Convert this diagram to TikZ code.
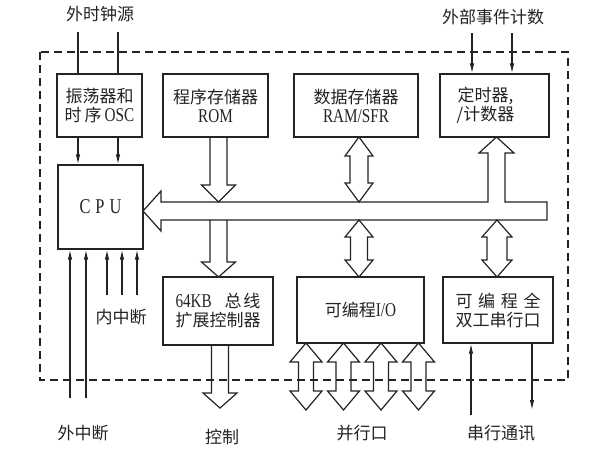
\documentclass[tikz,border=0pt]{standalone}
\usepackage{fontspec}
\setmainfont{Liberation Serif}[FakeStretch=0.78]
\newfontfamily\cjk{Noto Sans CJK SC}
\usetikzlibrary{arrows.meta}
\definecolor{ink}{RGB}{35,35,35}
\newcommand{\fs}{\fontsize{17}{19}\selectfont}
\newcommand{\la}{\fontsize{19.5}{19}\selectfont}
\newcommand{\FatDbl}[6]{\draw[fat] (#1,#2) -- ({#1+#4},{#2+#6}) -- ({#1+#5},{#2+#6}) -- ({#1+#5},{#3-#6}) -- ({#1+#4},{#3-#6}) -- (#1,#3) -- ({#1-#4},{#3-#6}) -- ({#1-#5},{#3-#6}) -- ({#1-#5},{#2+#6}) -- ({#1-#4},{#2+#6}) -- cycle;}
\newcommand{\FatDown}[6]{\draw[fat] ({#1-#5},#2) -- ({#1-#5},{#3-#6}) -- ({#1-#4},{#3-#6}) -- (#1,#3) -- ({#1+#4},{#3-#6}) -- ({#1+#5},{#3-#6}) -- ({#1+#5},#2);}
\begin{document}
\begin{tikzpicture}[x=1pt,y=-1pt,
  box/.style={draw=ink,line width=1.3pt,inner sep=0pt,align=center,font=\fs,text=ink},
  fat/.style={draw=ink,line width=1.2pt,line join=miter},
  thinarr/.style={draw=ink,line width=1.1pt,-{Latex[length=10pt,width=4.5pt]}},
  thinln/.style={draw=ink,line width=1.1pt},
  lbl/.style={font=\fs\cjk,text=ink,inner sep=0pt},
  frame/.style={draw=ink,line width=1.6pt,dash pattern=on 8pt off 5pt}]
\useasboundingbox (0,0) rectangle (595,453);

% boxes
\node[box,minimum width=85pt,minimum height=63pt] (osc) at (99.5,105.5) {{\cjk 振荡器和}\\{\cjk 时\hspace{3pt}序}\hspace{3pt}{\la OSC}};
\node[box,minimum width=105pt,minimum height=63pt] (rom) at (215.5,105.5) {{\cjk 程序存储器}\\{\la ROM}};
\node[box,minimum width=124pt,minimum height=63pt] (ram) at (356,105.5) {{\cjk 数据存储器}\\{\la RAM/SFR}};
\node[box,minimum width=109pt,minimum height=63pt,
  label={[font=\fs,text=ink,align=center,xshift=-9pt]center:{{\cjk 定时器,}\\{\cjk /计数器}}}] (timer) at (494.5,105.5) {};
\node[box,minimum width=85pt,minimum height=84pt] (cpu) at (100.5,207) {{\fontsize{21}{21}\selectfont C\hspace{5pt}P\hspace{5pt}U}};
\node[box,minimum width=110pt,minimum height=68pt] (ctrl) at (218,311) {\makebox[5em][s]{{\la 64KB}\hfill{\cjk 总\hspace{2pt}线}}\\{\cjk 扩展控制器}};
\node[box,minimum width=127pt,minimum height=66pt] (io) at (360.5,310) {{\cjk 可编程}{\la I/O}};
\node[box,minimum width=110pt,minimum height=66pt] (sio) at (498,310) {\makebox[5em][s]{\cjk 可\hfill 编\hfill 程\hfill 全}\\{\cjk 双工串行口}};

% outer dashed frame
\draw[frame] (40,52) rectangle (568,380);

% bus with branch up to the timer
\draw[fat] (143,211) -- (161,191) -- (161,202) -- (488,202) -- (488,153) -- (479,153) -- (496.5,137)
  -- (514,153) -- (505,153) -- (505,202) -- (547,202) -- (547,220) -- (161,220) -- (161,231) -- cycle;

% fat arrows
\FatDown{218.5}{137}{202}{17}{8.5}{17}
\FatDown{218.5}{220}{277}{17}{8.5}{15}
\FatDown{220}{345}{408}{17}{8.5}{15}
\FatDbl{359}{137}{202}{14}{9}{19}
\FatDbl{359}{220}{277}{14}{8.5}{17}
\FatDbl{497}{220}{277}{15}{10}{17}
\FatDbl{306}{343}{410}{16}{7.5}{19}
\FatDbl{343.5}{343}{410}{16}{7.5}{19}
\FatDbl{381}{343}{410}{16}{7.5}{19}
\FatDbl{418.5}{343}{410}{16}{7.5}{19}

% clock
\coordinate (ck1) at (78,32);
\coordinate (ck2) at (118,32);
\draw[thinln] (ck1) -- (ck1 |- osc.north);
\draw[thinln] (ck2) -- (ck2 |- osc.north);
\draw[thinarr] (ck1 |- osc.south) -- (ck1 |- cpu.north);
\draw[thinarr] (ck2 |- osc.south) -- (ck2 |- cpu.north);

% external events
\coordinate (ev1) at (472,33);
\coordinate (ev2) at (512,33);
\draw[thinarr] (ev1) -- (ev1 |- timer.north);
\draw[thinarr] (ev2) -- (ev2 |- timer.north);

% interrupts
\coordinate (ei1) at (70,398);
\coordinate (ei2) at (86,398);
\coordinate (ii1) at (107,295);
\coordinate (ii2) at (122,295);
\coordinate (ii3) at (137,295);
\foreach \p in {ei1,ei2,ii1,ii2,ii3}{\draw[thinarr] (\p) -- (\p |- cpu.south);}

% serial
\coordinate (rx) at (471,415);
\coordinate (tx) at (532,410);
\draw[thinarr] (rx) -- (rx |- sio.south);
\draw[thinarr] (tx |- sio.south) -- (tx);

% labels
\node[lbl] (clk) at (100,14) {外时钟源};
\node[lbl] (ext) at (493,17) {外部事件计数};
\node[lbl] (inint) at (121,317) {内中断};
\node[lbl] (exint) at (83,433) {外中断};
\node[lbl] (ctl) at (222,437) {控制};
\node[lbl] (par) at (362,433) {并行口};
\node[lbl] (ser) at (501,433) {串行通讯};
\end{tikzpicture}
\end{document}
